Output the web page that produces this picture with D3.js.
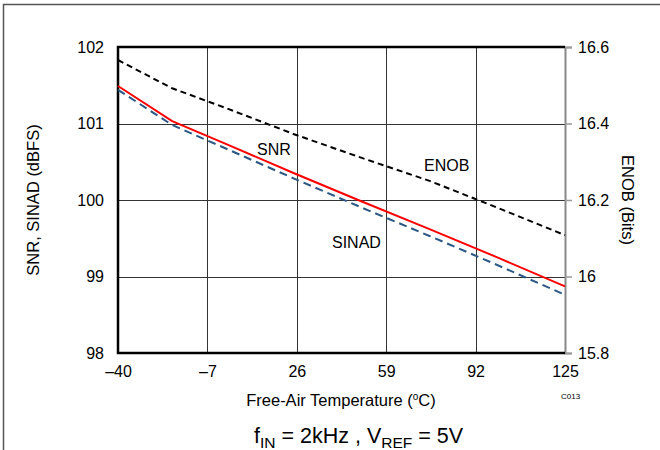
<!DOCTYPE html>
<html>
<head>
<meta charset="utf-8">
<script src="https://cdn.jsdelivr.net/npm/d3@7/dist/d3.min.js"></script>
<style>
  html, body { margin: 0; padding: 0; background: #fff; }
  svg { display: block; font-family: "Liberation Sans", Arial, sans-serif; }
</style>
</head>
<body>
<svg id="chart" width="660" height="450"></svg>
<script>
// Free-air temperature (°C)
const temps = [-40, -20, 0, 25, 50, 75, 100, 125];
// Signal-to-noise ratio (dBFS)
const snr = [101.49, 101.03, 100.73, 100.35, 99.98, 99.62, 99.25, 98.87];
// SINAD (dBFS)
const sinad = [101.44, 100.98, 100.67, 100.28, 99.90, 99.53, 99.15, 98.76];
// Effective number of bits
const enob = [16.566, 16.492, 16.44, 16.372, 16.31, 16.25, 16.18, 16.108];

const xTicks = [-40, -7, 26, 59, 92, 125];
const yLeftTicks = [98, 99, 100, 101, 102];
const yRightTicks = [15.8, 16, 16.2, 16.4, 16.6];

const svg = d3.select("#chart");
const L = 118, R = 565, T = 47, B = 353;
const FONT = "Liberation Sans, Arial, sans-serif";

const x = d3.scaleLinear().domain([-40, 125]).range([L, R]);
const yL = d3.scaleLinear().domain([98, 102]).range([B, T]);
const yR = d3.scaleLinear().domain([15.8, 16.6]).range([B, T]);

// outer frame (top and left edges)
svg.append("path")
  .attr("d", `M3.5,450 L3.5,4.5 L660,4.5`)
  .attr("fill", "none").attr("stroke", "#555").attr("stroke-width", 1.5);

// grid
const grid = svg.append("g").attr("stroke", "#333").attr("stroke-width", 1);
grid.selectAll("line.v").data(xTicks.slice(1, -1)).join("line")
  .attr("x1", d => Math.round(x(d)) + 0.5).attr("x2", d => Math.round(x(d)) + 0.5)
  .attr("y1", T).attr("y2", B);
grid.selectAll("line.h").data(yLeftTicks.slice(1, -1)).join("line")
  .attr("x1", L).attr("x2", R)
  .attr("y1", d => Math.round(yL(d)) + 0.5).attr("y2", d => Math.round(yL(d)) + 0.5);

// right axis (gray) with outward ticks
const rightAxis = d3.axisRight(yR).tickValues(yRightTicks)
  .tickSize(7).tickPadding(6)
  .tickFormat(d => d3.format("~g")(d));
const gR = svg.append("g").attr("transform", `translate(${R},0)`).call(rightAxis);
gR.select(".domain").attr("stroke", "#888").attr("stroke-width", 2);
gR.selectAll(".tick line").attr("stroke", "#999").attr("stroke-width", 1.5);
gR.selectAll(".tick text").attr("font-size", 16).attr("fill", "#000")
  .attr("font-family", FONT);

// left axis
const leftAxis = d3.axisLeft(yL).tickValues(yLeftTicks).tickSize(0).tickPadding(14)
  .tickFormat(d3.format("d"));
const gL = svg.append("g").attr("transform", `translate(${L},0)`).call(leftAxis);
gL.select(".domain").remove();
gL.selectAll(".tick text").attr("font-size", 16).attr("fill", "#000")
  .attr("font-family", FONT);

// bottom axis
const bottomAxis = d3.axisBottom(x).tickValues(xTicks).tickSize(0).tickPadding(13)
  .tickFormat(d => d < 0 ? "\u2013" + Math.abs(d) : d);
const gB = svg.append("g").attr("transform", `translate(0,${B})`).call(bottomAxis);
gB.select(".domain").remove();
gB.selectAll(".tick text").attr("font-size", 16).attr("fill", "#000")
  .attr("font-family", FONT);

// black frame: left, bottom, top
svg.append("path")
  .attr("d", `M${R},${T} L${L},${T} L${L},${B} L${R},${B}`)
  .attr("fill", "none").attr("stroke", "#000").attr("stroke-width", 2.5);

// series
const lineL = d3.line().x((d, i) => x(temps[i])).y(d => yL(d));
const lineR = d3.line().x((d, i) => x(temps[i])).y(d => yR(d));

svg.append("path").datum(enob).attr("d", lineR)
  .attr("fill", "none").attr("stroke", "#000").attr("stroke-width", 2)
  .attr("stroke-dasharray", "6,4");
svg.append("path").datum(sinad).attr("d", lineL)
  .attr("fill", "none").attr("stroke", "#2b5784").attr("stroke-width", 2)
  .attr("stroke-dasharray", "8,5");
svg.append("path").datum(snr).attr("d", lineL)
  .attr("fill", "none").attr("stroke", "#ff0000").attr("stroke-width", 2);

// series labels
const lab = svg.append("g").attr("font-size", 16).attr("fill", "#000");
lab.append("text").attr("x", 257).attr("y", 155).text("SNR");
lab.append("text").attr("x", 332).attr("y", 248).text("SINAD");
lab.append("text").attr("x", 424).attr("y", 171).text("ENOB");

// axis titles
svg.append("text")
  .attr("transform", `translate(39,${(T + B) / 2}) rotate(-90)`)
  .attr("text-anchor", "middle").attr("font-size", 16.5).text("SNR, SINAD (dBFS)");
svg.append("text")
  .attr("transform", `translate(622,${(T + B) / 2}) rotate(90)`)
  .attr("text-anchor", "middle").attr("font-size", 16.5).text("ENOB (Bits)");

const xt = svg.append("text").attr("x", 341).attr("y", 406)
  .attr("text-anchor", "middle").attr("font-size", 16.5);
xt.append("tspan").text("Free-Air Temperature (");
xt.append("tspan").attr("font-size", 10).attr("dy", -6).text("o");
xt.append("tspan").attr("dy", 6).text("C)");

svg.append("text").attr("x", 561).attr("y", 399).attr("font-size", 8).text("C013");

// condition caption
const cap = svg.append("text").attr("x", 254).attr("y", 443)
  .attr("text-anchor", "start").attr("font-size", 21.5);
cap.append("tspan").text("f");
cap.append("tspan").attr("font-size", 15.5).attr("dy", 5).text("IN");
cap.append("tspan").attr("dy", -5).text(" = 2kHz , V");
cap.append("tspan").attr("font-size", 15.5).attr("dy", 5).text("REF");
cap.append("tspan").attr("dy", -5).text(" = 5V");
</script>
</body>
</html>
